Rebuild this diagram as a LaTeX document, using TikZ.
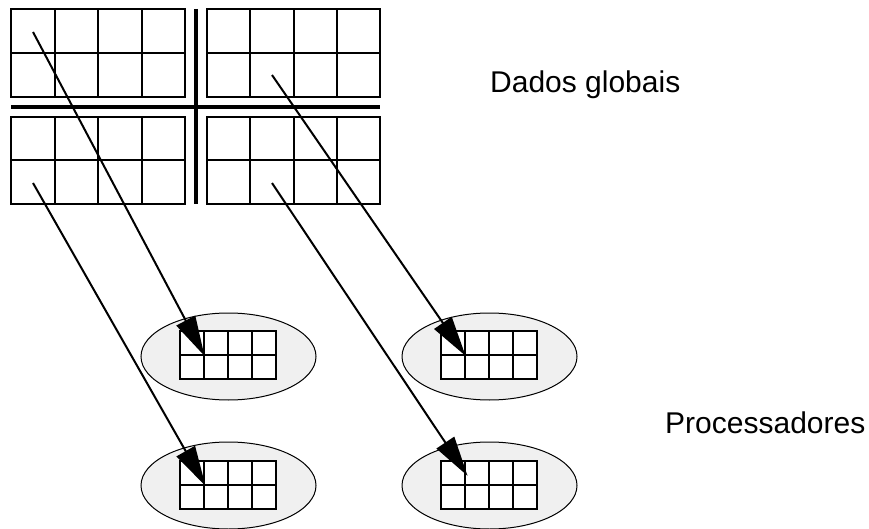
\documentclass[tikz,border=0pt]{standalone}
\usepackage{fontspec}
\setmainfont{Liberation Sans}
\usetikzlibrary{arrows.meta,shapes.geometric}
\tikzset{
  gridline/.style={line width=2pt, line cap=rect},
  crossline/.style={line width=4.5pt},
  proc/.style={draw, line width=1pt, fill=black!6, ellipse, minimum width=175pt, minimum height=87pt, inner sep=0pt},
  conn/.style={line width=2pt, -{Triangle[length=40pt, width=21pt]}, shorten >=-1pt},
  lbl/.style={font=\fontsize{30}{35}\selectfont, anchor=base west, inner sep=0pt},
}
\begin{document}
\begin{tikzpicture}[x=1pt, y=-1pt]
\useasboundingbox (0,0) rectangle (869,529);
% global data blocks (4 columns x 2 rows)
\foreach \xa/\ya/\xb/\yb in {11/9/185/97, 207/9/380/97, 11/117/185/204, 207/117/380/204}{
  \draw[gridline] (\xa,\ya) rectangle (\xb,\yb);
  \draw[gridline] (\xa,{(\ya+\yb)/2}) -- (\xb,{(\ya+\yb)/2});
  \foreach \k in {1,2,3}{
    \draw[gridline] ({\xa+\k*(\xb-\xa)/4},\ya) -- ({\xa+\k*(\xb-\xa)/4},\yb);
  }
}
\draw[crossline] (11,107) -- (380,107);
\draw[crossline] (196,9) -- (196,204);
% processors
\node[proc] (p1) at (228.5,356.5) {};
\node[proc] (p2) at (489.5,356.5) {};
\node[proc] (p3) at (228.5,485.5) {};
\node[proc] (p4) at (489.5,485.5) {};
\foreach \cx/\cy in {180/331, 441/331, 180/461, 441/461}{
  \fill[white] (\cx,\cy) rectangle ({\cx+96},{\cy+48});
  \draw[gridline] (\cx,\cy) rectangle ({\cx+96},{\cy+48});
  \draw[gridline] (\cx,{\cy+24}) -- ({\cx+96},{\cy+24});
  \foreach \k in {1,2,3}{
    \draw[gridline] ({\cx+24*\k},\cy) -- ({\cx+24*\k},{\cy+48});
  }
}
% connector endpoints
\coordinate (s1) at (33,32);
\coordinate (s2) at (272,75);
\coordinate (s3) at (33,183);
\coordinate (s4) at (272,183);
\coordinate (t1) at (204,355);
\coordinate (t2) at (465,355);
\coordinate (t3) at (205,485);
\coordinate (t4) at (467,475);
\draw[conn] (s1) -- (t1);
\draw[conn] (s2) -- (t2);
\draw[conn] (s3) -- (t3);
\draw[conn] (s4) -- (t4);
% labels
\node[lbl] (dados) at (490,93) {Dados globais};
\node[lbl] (proc) at (665,433) {Processadores};
\end{tikzpicture}
\end{document}
